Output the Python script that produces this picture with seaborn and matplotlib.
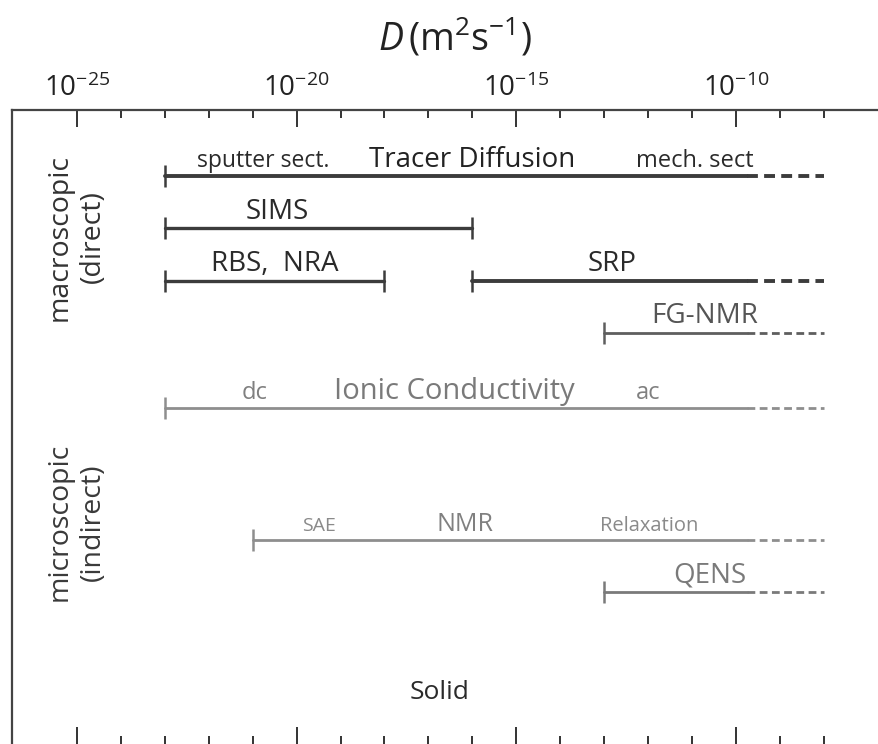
import matplotlib
matplotlib.use("Agg")
import matplotlib.pyplot as plt
from matplotlib.ticker import FixedLocator, FixedFormatter, NullFormatter
import seaborn as sns
import pandas as pd
import numpy as np

sns.set_theme(style="white")
plt.rcParams['font.family'] = ['Open Sans', 'DejaVu Sans']
plt.rcParams['mathtext.fontset'] = 'custom'
plt.rcParams['mathtext.rm'] = 'Open Sans'
plt.rcParams['mathtext.it'] = 'Open Sans:italic'
plt.rcParams['mathtext.bf'] = 'Open Sans:bold'

# ---- data (log10 of D in m^2/s) ----
methods = ["Tracer Diffusion", "SIMS", "RBS, NRA", "SRP", "FG-NMR",
           "Ionic Conductivity", "NMR", "QENS"]
rows = [1, 2, 3, 3, 4, 5.44, 7.96, 8.96]
log_start = [-23, -23, -23, -16, -13, -23, -21, -13]
log_end = [-9.75, -16, -18, -9.75, -9.75, -9.75, -9.75, -9.75]
extended = [True, False, False, True, True, True, True, True]
log_extend_to = -8
line_colors = ["#3c3c3c", "#3c3c3c", "#3c3c3c", "#3c3c3c", "#5e5e5e",
               "#8e8e8e", "#8e8e8e", "#7a7a7a"]
line_widths = [2.8, 2.4, 2.4, 2.8, 2.0, 2.0, 2.0, 2.0]

tick_major = [-25, -20, -15, -10]
tick_minor = [e for e in range(-25, -7) if e not in tick_major]
tick_labels = [r"$10^{%d}$" % e for e in tick_major]

# build segment table
recs = []
for i, m in enumerate(methods):
    recs.append(dict(method=m, seg=f"{i}s", kind="solid", D=10.0 ** log_start[i], row=rows[i]))
    recs.append(dict(method=m, seg=f"{i}s", kind="solid", D=10.0 ** log_end[i], row=rows[i]))
    if extended[i]:
        recs.append(dict(method=m, seg=f"{i}d", kind="dashed", D=10.0 ** log_end[i], row=rows[i]))
        recs.append(dict(method=m, seg=f"{i}d", kind="dashed", D=10.0 ** log_extend_to, row=rows[i]))
df = pd.DataFrame(recs)

fig = plt.figure(figsize=(8.79, 7.44), dpi=100)
ax = fig.add_axes([12 / 879, 0.0, 1 - 12 / 879, 1 - 110 / 744])
ax.set_xscale("log")

for i, m in enumerate(methods):
    sub = df[df.method == m]
    sns.lineplot(data=sub, x="D", y="row", units="seg", estimator=None,
                 style="kind", dashes={"solid": "", "dashed": (2.8, 1.6)},
                 style_order=["solid", "dashed"],
                 color=line_colors[i], lw=line_widths[i], ax=ax, legend=False,
                 sort=False)
    caps_x = [10.0 ** log_start[i]]
    if not extended[i]:
        caps_x.append(10.0 ** log_end[i])
    ax.plot(caps_x, [rows[i]] * len(caps_x), ls="none", marker="|", ms=16,
            mew=1.8, color=line_colors[i])

ax.set_xlim(10 ** -26.48, 10 ** -6.74)
ax.set_ylim(11.86, -0.262)
ax.set_xlabel("")
ax.set_ylabel("")
ax.set_yticks([])

ax.xaxis.set_major_locator(FixedLocator([10.0 ** e for e in tick_major]))
ax.xaxis.set_major_formatter(FixedFormatter(tick_labels))
ax.xaxis.set_minor_locator(FixedLocator([10.0 ** e for e in tick_minor]))
ax.xaxis.set_minor_formatter(NullFormatter())
ax.tick_params(axis="x", which="both", direction="in", top=True, bottom=True,
               labeltop=True, labelbottom=False, color="#333333", width=1.4)
ax.tick_params(axis="x", which="major", length=12, labelsize=20, pad=5,
               labelcolor="#222222")
ax.tick_params(axis="x", which="minor", length=6)

for s in ["right", "bottom"]:
    ax.spines[s].set_visible(False)
for s in ["top", "left"]:
    ax.spines[s].set_color("#444444")
    ax.spines[s].set_linewidth(1.6)

fig.text(455 / 879, 1 - 38 / 744, r"$D\,(\mathrm{m}^2\mathrm{s}^{-1})$",
         ha="center", va="center", fontsize=27, color="#222222")

# annotations
def lab(logx, row, text, size, color):
    ax.text(10.0 ** logx, row - 0.18, text, ha="center", va="baseline",
            fontsize=size, color=color)

lab(-20.77, 1, "sputter sect.", 16.5, "#2a2a2a")
lab(-16.0, 1, "Tracer Diffusion", 20, "#222222")
lab(-10.93, 1, "mech. sect", 17, "#2a2a2a")
lab(-20.45, 2, "SIMS", 20, "#2a2a2a")
lab(-20.5, 3, "RBS,  NRA", 20, "#2a2a2a")
lab(-12.82, 3, "SRP", 20, "#2a2a2a")
lab(-10.7, 4, "FG-NMR", 20, "#555555")
lab(-20.95, 5.44, "dc", 17, "#808080")
lab(-16.4, 5.44, "Ionic Conductivity", 21, "#7a7a7a")
lab(-12.0, 5.44, "ac", 17, "#808080")
lab(-19.5, 7.96, "SAE", 14, "#8a8a8a")
lab(-16.17, 7.96, "NMR", 18, "#808080")
lab(-11.98, 7.96, "Relaxation", 14.5, "#8a8a8a")
lab(-10.6, 8.96, "QENS", 20, "#7a7a7a")
ax.text(10.0 ** -16.74, 11.0, "Solid", ha="center", va="baseline",
        fontsize=19, color="#2a2a2a")

fig.text(76 / 879, 1 - 237 / 744, "macroscopic\n(direct)", rotation=90,
         ha="center", va="center", fontsize=20.5, color="#333333",
         multialignment="center", linespacing=1.25)
fig.text(76 / 879, 1 - 522 / 744, "microscopic\n(indirect)", rotation=90,
         ha="center", va="center", fontsize=20.5, color="#3a3a3a",
         multialignment="center", linespacing=1.25)

fig.savefig("out.png", dpi=100)
